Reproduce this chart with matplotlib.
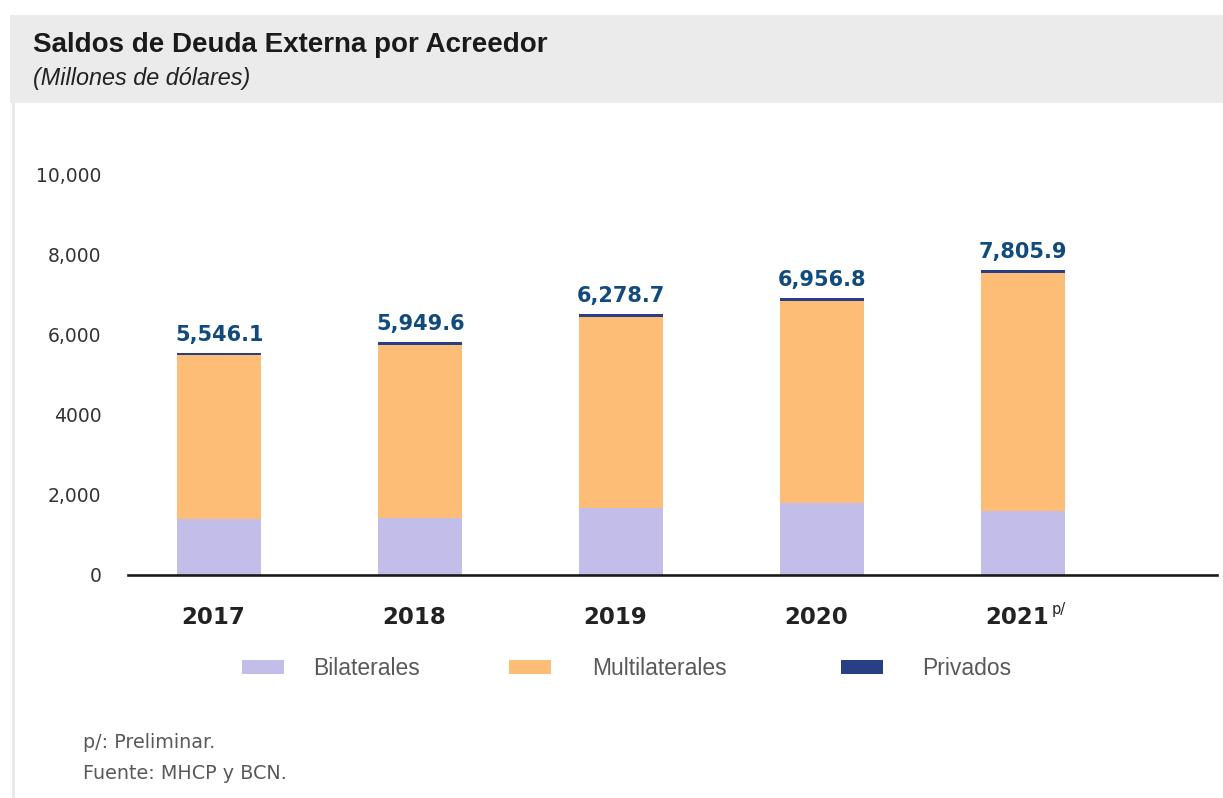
import matplotlib
matplotlib.use("Agg")
import matplotlib.pyplot as plt
import matplotlib.patches as mpatches
from matplotlib.lines import Line2D
import numpy as np

# ---- data ----
years = ["2017", "2018", "2019", "2020", "2021"]
bilaterales = [1393, 1425, 1675, 1785, 1585]
multilaterales = [4100, 4317, 4767, 5057, 5957]
privados = [60, 75, 75, 75, 75]
total_labels = ["5,546.1", "5,949.6", "6,278.7", "6,956.8", "7,805.9"]
ytick_values = [0, 2000, 4000, 6000, 8000, 10000]
ytick_labels = ["0", "2,000", "4000", "6,000", "8,000", "10,000"]
series_names = ["Bilaterales", "Multilaterales", "Privados"]
series_colors = ["#C3BDEA", "#FDBD77", "#283F85"]

W, H = 1223, 798
fig = plt.figure(figsize=(W / 100, H / 100), dpi=100)
fig.patch.set_facecolor("white")

def fx(px):
    return px / W

def fy(py):
    return 1 - py / H

# header band
fig.patches.append(mpatches.Rectangle((fx(10), fy(103)), 1, (103 - 15) / H,
                                      transform=fig.transFigure, facecolor="#EBEBEB",
                                      edgecolor="none", zorder=0))
# left border line
fig.lines.append(Line2D([fx(13), fx(13)], [0, fy(103)], transform=fig.transFigure,
                        color="#E8E8E8", lw=2.0, zorder=0))

fig.text(fx(33), fy(52), "Saldos de Deuda Externa por Acreedor", fontsize=20,
         fontweight="bold", family="Liberation Sans", color="#1A1A1A", va="baseline")
fig.text(fx(33), fy(85), "(Millones de dólares)", fontsize=16.8, style="italic",
         family="Liberation Sans", color="#222222", va="baseline")

# axes
ax = fig.add_axes([fx(128), fy(574.7), (1217 - 128) / W, (574.7 - 175) / H])
x = np.arange(len(years))
bw = 0.418
b1 = np.array(bilaterales)
b2 = np.array(multilaterales)
b3 = np.array(privados)
ax.bar(x, b1, bw, color=series_colors[0], zorder=2)
ax.bar(x, b2, bw, bottom=b1, color=series_colors[1], zorder=2)
ax.bar(x, b3, bw, bottom=b1 + b2, color=series_colors[2], zorder=2)
ax.set_xlim(-0.455, 4.965)
ax.set_ylim(0, 10000)

for s in ["top", "right", "left"]:
    ax.spines[s].set_visible(False)
ax.spines["bottom"].set_color("#1A1A1A")
ax.spines["bottom"].set_linewidth(1.9)
ax.spines["bottom"].set_zorder(3)

ax.set_yticks(ytick_values)
ax.set_yticklabels(ytick_labels, fontsize=13.5, color="#333333", family="DejaVu Sans")
ax.tick_params(axis="y", length=0, pad=19)
ax.set_xticks([])

tops = b1 + b2 + b3
for i in range(len(years)):
    ax.annotate(total_labels[i], xy=(x[i], tops[i]), xytext=(0, 8.5),
                textcoords="offset points", ha="center", va="baseline",
                fontsize=15, fontweight="bold", color="#114B7E", family="DejaVu Sans")
    ax.annotate(years[i], xy=(x[i], 0), xycoords=ax.get_xaxis_transform(),
                xytext=(-4.5, -35.7), textcoords="offset points", ha="center",
                va="baseline", fontsize=16.5, fontweight="bold", color="#222222",
                family="DejaVu Sans", annotation_clip=False)

ax.annotate("p/", xy=(x[-1], 0), xycoords=ax.get_xaxis_transform(),
            xytext=(20.5, -28.3), textcoords="offset points", ha="left", va="baseline",
            fontsize=10.5, color="#222222", family="DejaVu Sans", annotation_clip=False)

# legend (one entry per series)
leg_x = [242, 509, 841]
leg_pad = [1.27, 1.79, 1.7]
for name, col, lx, pad in zip(series_names, series_colors, leg_x, leg_pad):
    h = mpatches.Patch(facecolor=col, edgecolor="none")
    fig.legend([h], [name], loc="center left", bbox_to_anchor=(fx(lx), fy(668.5)),
               frameon=False, handlelength=1.83, handleheight=0.57, handletextpad=pad,
               borderpad=0, borderaxespad=0,
               prop={"family": "Liberation Sans", "size": 16.5},
               labelcolor="#595959")

fig.text(fx(83), fy(748), "p/: Preliminar.", fontsize=13.8, color="#595959",
         family="DejaVu Sans", va="baseline")
fig.text(fx(83), fy(779), "Fuente: MHCP y BCN.", fontsize=13.8, color="#595959",
         family="DejaVu Sans", va="baseline")

fig.savefig("out.png", dpi=100, facecolor="white")
